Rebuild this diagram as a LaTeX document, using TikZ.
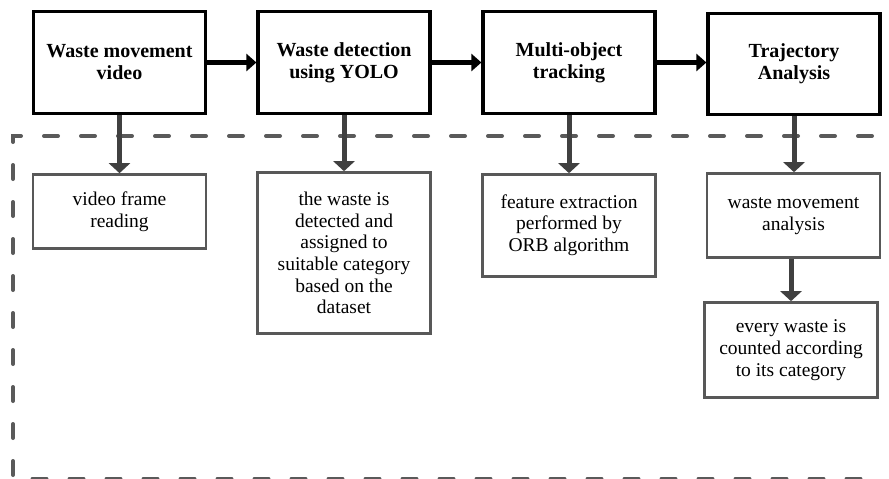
\documentclass[tikz,border=0pt]{standalone}
\usepackage{fontspec}
\setmainfont{Liberation Serif}
\usetikzlibrary{arrows.meta}
\definecolor{dgray}{HTML}{404040}
\definecolor{bgray}{HTML}{585858}
\definecolor{dashgray}{HTML}{5A5A5A}
\begin{document}
\begin{tikzpicture}[x=1pt,y=-1pt,
  topbox/.style={draw=black,line width=3.2pt,minimum width=172pt,align=center,
    font=\fontsize{20}{22}\selectfont\bfseries,inner sep=0pt},
  lowbox/.style={draw=bgray,line width=2.6pt,minimum width=173pt,align=center,
    font=\fontsize{19.5}{21.7}\selectfont,inner sep=0pt},
  harrow/.style={line width=5pt,draw=black,-{Triangle[length=10pt,width=17pt]}},
  varrow/.style={line width=5pt,draw=dgray,-{Triangle[length=10pt,width=21pt]}},
  dashframe/.style={draw=dashgray,line width=4pt,line cap=round,dash pattern=on 14pt off 23pt}
]
\useasboundingbox (0,0) rectangle (889,479);
% dashed frame
\draw[dashframe] (872,136) -- (13,136) -- (13,478.5) -- (872,478.5);
% top boxes
\node[topbox,minimum height=102pt] (b1) at (119.5,62.5) {Waste movement\\video};
\node[topbox,minimum height=102pt] (b2) at (344,62.5) {Waste detection\\using YOLO};
\node[topbox,minimum height=102pt] (b3) at (569,62.5) {Multi-object\\tracking};
\node[topbox,minimum height=101pt] (b4) at (794,64) {Trajectory\\Analysis};
% lower boxes
\node[lowbox,minimum height=74pt] (l1) at (119.5,211.5) {video frame\\reading};
\node[lowbox,minimum height=161pt] (l2) at (344,253) {the waste is\\detected and\\assigned to\\suitable category\\based on the\\dataset};
\node[lowbox,minimum height=102pt] (l3) at (569,225.5) {\raisebox{-4pt}{\begin{tabular}{@{}c@{}}feature extraction\\performed by\\ORB algorithm\end{tabular}}};
\node[lowbox,minimum height=84pt] (l4) at (793.5,215.5) {\raisebox{-4pt}{\begin{tabular}{@{}c@{}}waste movement\\analysis\end{tabular}}};
\node[lowbox,minimum height=95pt] (l5) at (791,350) {every waste is\\counted according\\to its category};
% horizontal arrows
\draw[harrow] (b1.east) -- (b2.west);
\draw[harrow] (b2.east) -- (b3.west);
\draw[harrow] (b3.east) -- (b4.west |- b3.east);
% vertical arrows
\draw[varrow] (b1.south) -- (l1.north);
\draw[varrow] (b2.south) -- (l2.north);
\draw[varrow] (b3.south) -- (l3.north);
\draw[varrow] (b4.south) -- (l4.north -| b4.south);
\draw[varrow] (l4.south -| l5.north) -- (l5.north);
\end{tikzpicture}
\end{document}
